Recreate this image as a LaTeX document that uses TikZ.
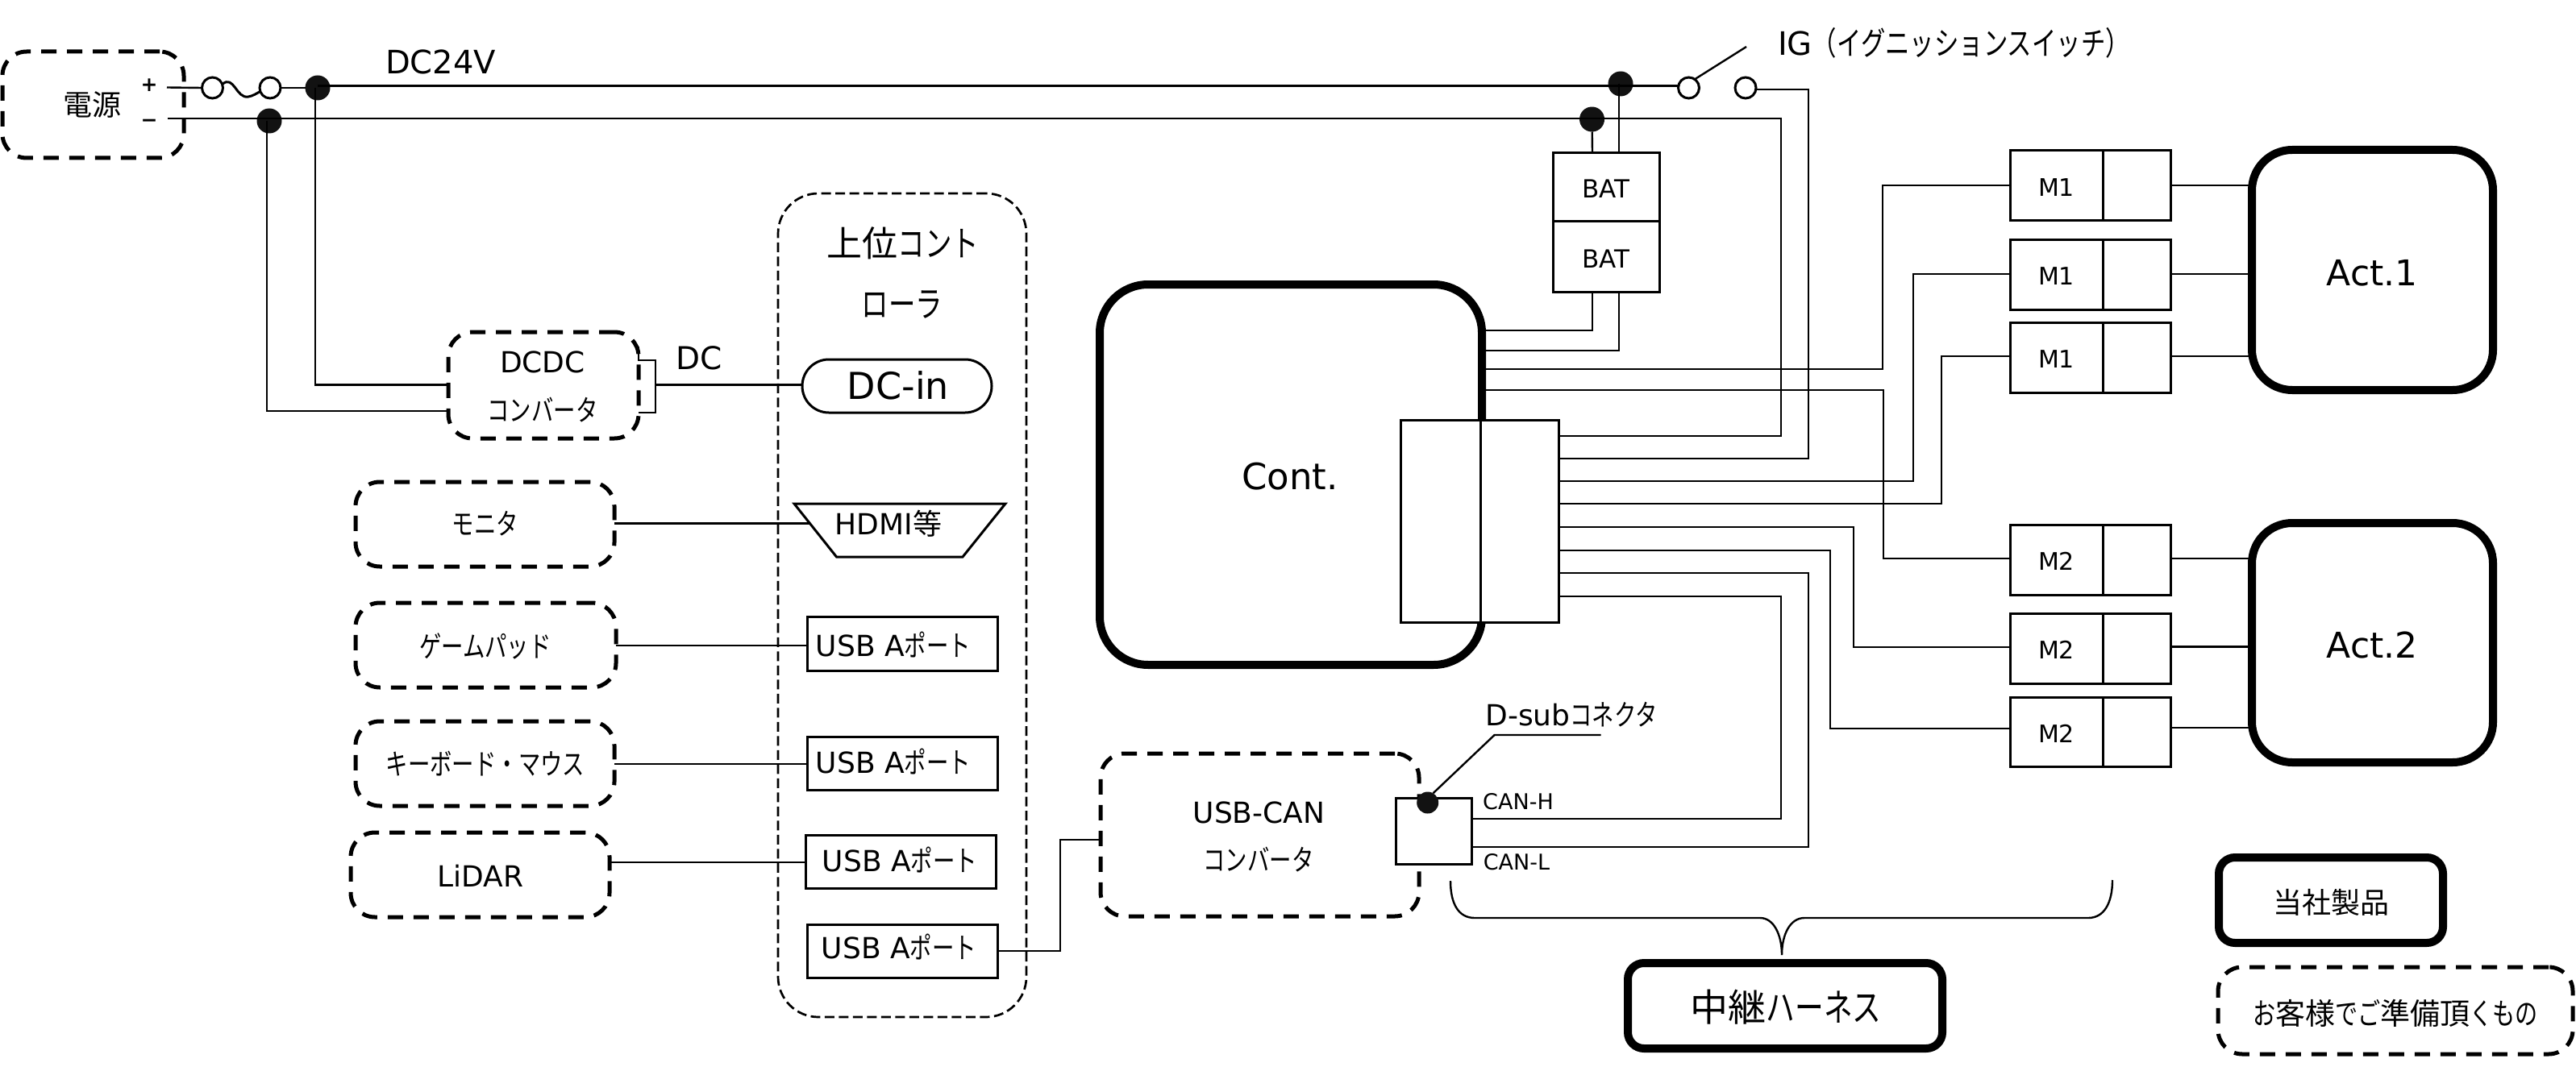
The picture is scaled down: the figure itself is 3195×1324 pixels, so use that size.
\documentclass[tikz,border=0pt]{standalone}
\usepackage{fontspec}
\setmainfont{DejaVu Sans}
\newfontfamily\jp{Noto Sans CJK JP}
\newfontfamily\kn[FakeStretch=0.76]{Noto Sans CJK JP}
\newcommand\fs[1]{\fontsize{#1}{#1}\selectfont}
\newcommand\bx[7]{%
  \pgfmathsetmacro\bxx{(#3+#5)/2}\pgfmathsetmacro\bxy{(#4+#6)/2}%
  \pgfmathsetmacro\bxw{abs(#5-#3)}\pgfmathsetmacro\bxh{abs(#6-#4)}%
  \node[#1,minimum width=\bxw pt,minimum height=\bxh pt] (#2) at (\bxx,\bxy) {#7};}
\tikzset{
  base/.style={draw=black,fill=white,inner sep=0pt,outer sep=0pt,rectangle},
  thin box/.style={base,line width=3pt},
  heavy/.style={base,line width=10pt,rounded corners=#1},
  heavy/.default=60pt,
  guest/.style={base,fill=none,line width=5pt,rounded corners=30pt,dash pattern=on 19pt off 13pt},
  host/.style={base,fill=none,line width=2.7pt,rounded corners=50pt,dash pattern=on 12pt off 5.5pt},
  wire/.style={draw=black,line width=2.4pt,line join=miter},
  lbl/.style={inner sep=0pt,outer sep=0pt},
  dot/.style={circle,fill=black!93,inner sep=0pt,outer sep=0pt,minimum size=#1},
  dot/.default=31pt,
  term/.style={circle,draw=black,fill=white,line width=3pt,inner sep=0pt,outer sep=0pt,minimum size=26pt}
}
\begin{document}
\begin{tikzpicture}[x=1pt,y=-1pt]
\useasboundingbox (0,0) rectangle (3195,1324);

% --- boxes
\bx{guest}{psu}{3}{64}{228}{196}{}
\bx{guest}{dcdc}{556}{412}{792}{544}{}
\bx{guest}{mon}{441}{598}{762}{703}{}
\bx{guest}{pad}{441}{748}{764}{853}{}
\bx{guest}{kbd}{441}{895}{762}{1000}{}
\bx{guest}{lidar}{435}{1033}{756}{1138}{}
\bx{guest}{ucan}{1365}{935}{1760}{1137}{}
\bx{guest}{order}{2751}{1200}{3191}{1308}{}
\bx{host}{upper}{965}{240}{1273}{1262}{}
\bx{heavy}{cont}{1364}{353}{1838}{825}{}
\bx{heavy=50pt}{act1}{2793}{186}{3092}{484}{}
\bx{heavy=50pt}{act2}{2793}{649}{3092}{946}{}
\bx{heavy=20pt}{relay}{2019}{1195}{2409}{1301}{}
\bx{heavy=20pt}{ours}{2752}{1064}{3030}{1170}{}
\bx{thin box}{connL}{1737}{521}{1836}{772}{}
\bx{thin box}{connR}{1836}{521}{1933}{772}{}
\bx{thin box}{dsub}{1731}{990}{1825.5}{1072}{}
\bx{thin box}{bat1}{1926}{190}{2058}{275}{\raisebox{-2pt}[\height][\depth]{\fs{31}BAT}}
\bx{thin box}{bat2}{1926}{275}{2058}{362.5}{\raisebox{-2pt}[\height][\depth]{\fs{31}BAT}}
\foreach \nm/\ya/\yb/\txt in {m1a/187/274/M1,m1b/297/384/M1,m1c/400/487/M1,m2a/651/738/M2,m2b/761/848/M2,m2c/865/951/M2}{
  \bx{thin box}{\nm}{2493}{\ya}{2608}{\yb}{\raisebox{-2pt}[\height][\depth]{\fs{30}\txt}}
  \bx{thin box}{\nm R}{2608}{\ya}{2692}{\yb}{}
}
\bx{thin box,rounded corners=33pt}{dcin}{995}{446}{1230}{512}{}
\bx{thin box}{usb1}{1001}{765}{1237}{832}{}
\bx{thin box}{usb2}{1001}{914.5}{1237}{980}{}
\bx{thin box}{usb3}{999}{1036}{1235}{1102}{}
\bx{thin box}{usb4}{1001}{1147}{1237}{1213}{}
\coordinate (ha) at (985,625);
\coordinate (hb) at (1247,625);
\coordinate (hc) at (1194,691);
\coordinate (hd) at (1037.5,691);
\coordinate (he) at (1004,649.5);
\draw[line width=3pt,fill=white] (ha) -- (hb) -- (hc) -- (hd) -- cycle;

% --- power side symbols
\node[term] (f1) at (263.5,109) {};
\node[term] (f2) at (335,109) {};
\node[term] (sw1) at (2094.5,109) {};
\node[term] (sw2) at (2165,109) {};
\node[dot] (d1) at (394,109) {};
\node[dot] (d2) at (334,150) {};
\node[dot] (d3) at (2010,104) {};
\node[dot] (d4) at (1974.5,148) {};
\node[dot=27pt] (d5) at (1770.7,996) {};

\coordinate (pp) at (207,108.5);
\coordinate (pm) at (208,147);
\coordinate (armend) at (2166,58);
\coordinate (br) at (813,477.5);
\coordinate (lead1) at (1853.6,912);
\coordinate (lead2) at (1985.6,912);
\coordinate (bl) at (1799,1093);
\coordinate (bm) at (2210,1185);
\coordinate (brr) at (2620,1092);

% --- wires
\draw[wire] (pp) -- (f1.west);
\draw[wire,line width=3pt] (f1.20) .. controls (290,92) and (293,123) .. (308,120) .. controls (314,119) and (318,116) .. (f2.200);
\draw[wire] (f2.east) -- (d1.west);
\draw[wire] (d1 |- 0,106.5) -- (d3 |- 0,106.5) -- (sw1.west |- 0,106.5);
\draw[wire] (sw1.55) -- (armend);
\draw[wire] (pm) -- (d2 |- 0,147);
\draw[wire] (d2 |- 0,147) -- (d4 |- 0,147) -- (2209,147) -- (2209,541) -- (connR.east |- 0,541);
\draw[wire] (sw2.east |- 0,111) -- (2243,111) -- (2243,569) -- (connR.east |- 0,569);
\draw[wire] (391,109) -- (391,477.5) -- (dcdc.west |- 0,477.5);
\draw[wire] (331,150) -- (331,510) -- (dcdc.west |- 0,510);
\draw[wire] (dcdc.east |- 0,430) -- (dcdc.east |- 0,447) -- (813,447) -- (813,512) -- (dcdc.east |- 0,512);
\draw[wire] (br) -- (dcin.west |- br);
\draw[wire] (mon.east |- 0,649.5) -- (he);
\draw[wire] (pad.east |- 0,801) -- (usb1.west |- 0,801);
\draw[wire] (kbd.east |- 0,948) -- (usb2.west |- 0,948);
\draw[wire] (lidar.east |- 0,1070) -- (usb3.west |- 0,1070);
\draw[wire] (usb4.east |- 0,1180) -- (1315,1180) -- (1315,1041.7) -- (ucan.west |- 0,1041.7);
\draw[wire] (d4) -- (1975,190);
\draw[wire] (2008,104) -- (2008,190);
\draw[wire] (1975,362.5) -- (1975,410) -- (cont.east |- 0,410);
\draw[wire] (2008,362.5) -- (2008,435) -- (cont.east |- 0,435);
\draw[wire] (cont.east |- 0,458) -- (2335,458) -- (2335,230) -- (m1a.west |- 0,230);
\draw[wire] (cont.east |- 0,484) -- (2336,484) -- (2336,693) -- (m2a.west |- 0,693);
\draw[wire] (connR.east |- 0,597) -- (2373,597) -- (2373,340) -- (m1b.west |- 0,340);
\draw[wire] (connR.east |- 0,625) -- (2408,625) -- (2408,442) -- (m1c.west |- 0,442);
\draw[wire] (connR.east |- 0,654) -- (2299,654) -- (2299,803) -- (m2b.west |- 0,803);
\draw[wire] (connR.east |- 0,683) -- (2270,683) -- (2270,904) -- (m2c.west |- 0,904);
\draw[wire] (connR.east |- 0,711) -- (2243,711) -- (2243,1051) -- (dsub.east |- 0,1051);
\draw[wire] (connR.east |- 0,740) -- (2209,740) -- (2209,1016) -- (dsub.east |- 0,1016);
\foreach \nm/\act/\yy in {m1aR/act1/230,m1bR/act1/340,m1cR/act1/442,m2aR/act2/693,m2bR/act2/802.5,m2cR/act2/903}{
  \draw[wire] (\nm.east |- 0,\yy) -- (\act.west |- 0,\yy);
}
\draw[wire] (d5.60) -- (lead1) -- (lead2);
\draw[wire] (bl) .. controls (1799,1120) and (1808,1139) .. (1829,1139) -- (2183,1139)
  .. controls (2200,1139) and (2210,1160) .. (bm)
  .. controls (2210,1160) and (2220,1139) .. (2238,1139) -- (2590,1139)
  .. controls (2610,1139) and (2620,1120) .. (brr);

% --- labels
\node[lbl,font=\fs{36}] (tpsu) at (114,130) {\jp 電源};
\node[lbl,font=\fs{25}\bfseries] (tp) at (185,106) {+};
\node[lbl,font=\fs{25}\bfseries] (tm) at (185,153) {−};
\node[lbl,font=\fs{40}] (t24) at (546.5,77) {DC24V};
\node[lbl,font=\fs{40},anchor=west] (tig) at (2205,53) {IG{\kn （イグニッションスイッチ）}};
\node[lbl,font=\fs{36}] (tdc1) at (673,449) {DCDC};
\node[lbl,font=\fs{36}] (tdc2) at (673,509) {\kn コンバータ};
\node[lbl,font=\fs{39}] (tdc) at (867,444) {DC};
\node[lbl,font=\fs{44}] (tup1) at (1120,302) {\jp 上位{\kn コント}};
\node[lbl,font=\fs{44}] (tup2) at (1119,378) {\kn ローラ};
\node[lbl,font=\fs{46}] (tin) at (1114,478) {DC-in};
\node[lbl,font=\fs{36}] (tmon) at (602,650) {\kn モニタ};
\node[lbl,font=\fs{36}] (tpad) at (602,802) {\kn ゲームパッド};
\node[lbl,font=\fs{36}] (tkbd) at (602,948) {\kn キーボード・マウス};
\node[lbl,font=\fs{36}] (tlid) at (596,1087) {LiDAR};
\node[lbl,font=\fs{36}] (thd) at (1102,650) {HDMI{\jp 等}};
\node[lbl,font=\fs{36}] (tu1) at (1108,800) {USB A{\kn ポート}};
\node[lbl,font=\fs{36}] (tu2) at (1108,945) {USB A{\kn ポート}};
\node[lbl,font=\fs{36}] (tu3) at (1116,1067) {USB A{\kn ポート}};
\node[lbl,font=\fs{36}] (tu4) at (1115,1175) {USB A{\kn ポート}};
\node[lbl,font=\fs{45}] (tcont) at (1600,591) {Cont.};
\node[lbl,font=\fs{44}] (tact1) at (2942,338.6) {Act.1};
\node[lbl,font=\fs{44}] (tact2) at (2942,800) {Act.2};
\node[lbl,font=\fs{36}] (tds) at (1949,887) {D-sub{\kn コネクタ}};
\node[lbl,font=\fs{27}] (tch) at (1883,995) {CAN-H};
\node[lbl,font=\fs{27}] (tcl) at (1881,1070) {CAN-L};
\node[lbl,font=\fs{36}] (tuc1) at (1561.5,1008) {USB-CAN};
\node[lbl,font=\fs{36}] (tuc2) at (1561,1067) {\kn コンバータ};
\node[lbl,font=\fs{47}] (trel) at (2215,1250) {\jp 中継{\kn ハーネス}};
\node[lbl,font=\fs{36}] (tour) at (2891,1120) {\jp 当社製品};
\node[lbl,font=\fs{37}] (tord) at (2971,1257) {{\kn お}{\jp 客様}{\kn でご}{\jp 準備頂}{\kn くもの}};
\end{tikzpicture}
\end{document}
